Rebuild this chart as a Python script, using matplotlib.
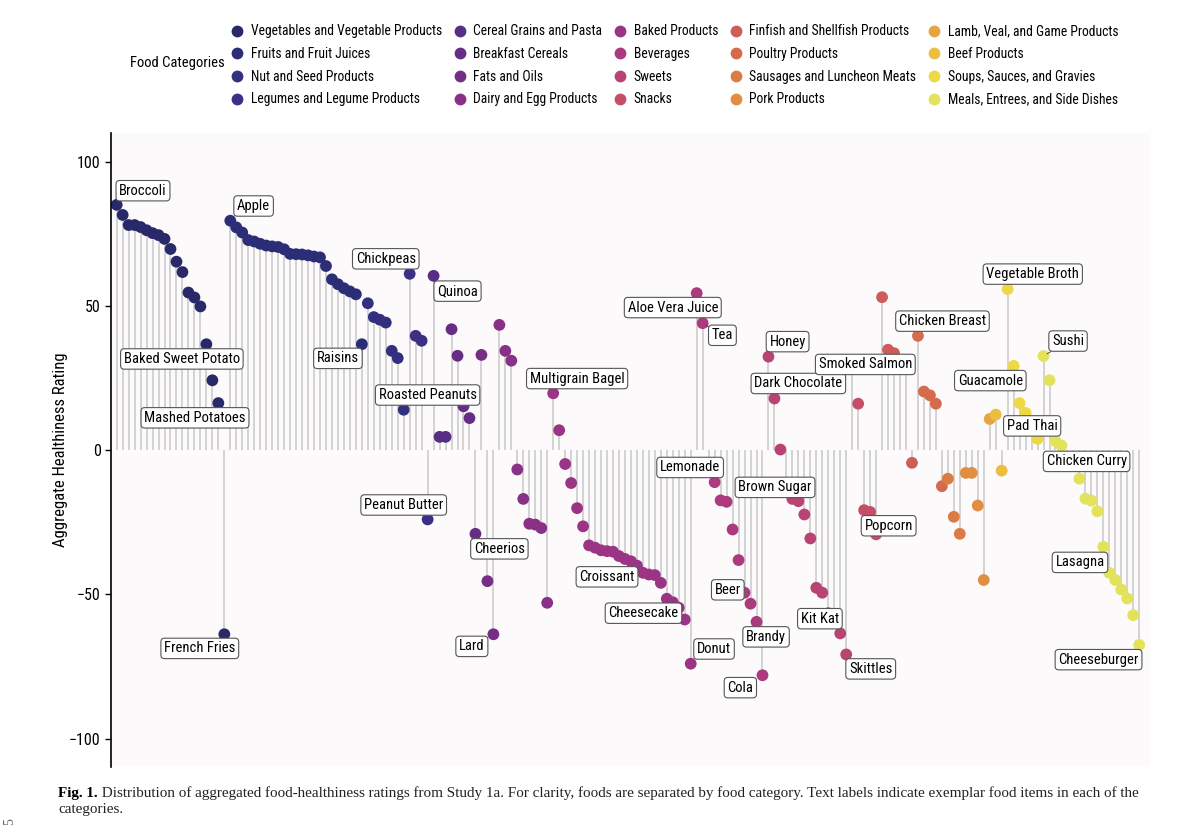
import matplotlib
matplotlib.use("Agg")
import matplotlib.pyplot as plt
from matplotlib import font_manager
from matplotlib.lines import Line2D
import numpy as np

# ------------------ DATOS ------------------
categories = [
    "Vegetables and Vegetable Products", "Fruits and Fruit Juices",
    "Nut and Seed Products", "Legumes and Legume Products",
    "Cereal Grains and Pasta", "Breakfast Cereals", "Fats and Oils",
    "Dairy and Egg Products", "Baked Products", "Beverages", "Sweets",
    "Snacks", "Finfish and Shellfish Products", "Poultry Products",
    "Sausages and Luncheon Meats", "Pork Products",
    "Lamb, Veal, and Game Products", "Beef Products",
    "Soups, Sauces, and Gravies", "Meals, Entrees, and Side Dishes",
]

vegetables = [85, 81.5, 78, 78, 77.3, 76.2, 75.2, 74.5, 73.2, 69.7, 65.3, 61.7,
              54.6, 52.9, 49.8, 36.7, 24.2, 16.3, -63.8]
fruits = [79.5, 77.2, 75.4, 72.8, 72.3, 71.5, 70.9, 70.6, 70.4, 69.6, 68.0, 67.9,
          67.8, 67.5, 67.1, 66.8, 63.8, 59.2, 57.5, 56.1, 55.0, 54.0, 36.7]
nuts = [50.9, 46.1, 45.2, 44.2, 34.4, 31.9, 14.0]
legumes = [61.1, 39.6, 37.9, -24.0]
cereal_grains = [60.4, 4.6, 4.6]
breakfast = [41.9, 32.7, 15.2, 11.1, -29.0]
fats = [33.0, -45.4, -63.8]
dairy = [43.4, 34.4, 31.0, -6.7, -16.9, -25.5, -25.8, -27.0, -52.9]
baked = [19.7, 6.9, -4.8, -11.4, -20.1, -26.4, -33.0, -33.8, -34.7, -35.0, -35.2,
         -36.7, -37.7, -38.5, -40.0, -42.5, -43.1, -43.3, -46.0, -51.5, -52.7,
         -54.6, -58.7, -74.0]
beverages = [54.4, 44.0, -6.0, -11.1, -17.4, -17.9, -27.5, -38.1, -49.4, -53.2,
             -59.5, -78.0]
sweets = [32.4, 17.9, 0.2, -12.0, -16.9, -17.7, -22.3, -30.6, -47.7, -49.4,
          -56.5, -59.5, -63.5, -70.8]
snacks = [30.0, 16.1, -20.8, -21.4, -29.2]
finfish = [53.0, 34.8, 33.6, 30.5, 28.5, -4.4]
poultry = [39.6, 20.3, 19.0, 16.1, -12.5]
sausages = [-9.9, -23.1, -29.0]
pork = [-7.9, -7.9, -19.2, -45.0]
lamb = [10.8]
beef = [12.3, -7.1]
soups = [55.8, 29.2, 16.3, 12.9, 8.0, 3.9]
meals = [32.6, 24.2, 3.1, 1.6, -3.5, -5.5, -9.9, -16.8, -17.5, -21.2, -33.5,
         -42.5, -45.0, -48.3, -51.4, -57.2, -67.5]

series = [vegetables, fruits, nuts, legumes, cereal_grains, breakfast, fats,
          dairy, baked, beverages, sweets, snacks, finfish, poultry, sausages,
          pork, lamb, beef, soups, meals]

# alimentos etiquetados -> indice del punto
label_names = ["Broccoli", "Baked Sweet Potato", "Mashed Potatoes", "French Fries",
               "Apple", "Raisins", "Roasted Peanuts", "Chickpeas", "Peanut Butter",
               "Quinoa", "Cheerios", "Lard", "Multigrain Bagel", "Croissant",
               "Cheesecake", "Donut", "Aloe Vera Juice", "Tea", "Lemonade", "Beer",
               "Brandy", "Cola", "Honey", "Dark Chocolate", "Brown Sugar", "Kit Kat",
               "Skittles", "Popcorn", "Smoked Salmon", "Chicken Breast",
               "Vegetable Broth", "Guacamole", "Sushi", "Pad Thai", "Chicken Curry",
               "Lasagna", "Cheeseburger"]
label_idx = [0, 15, 17, 18, 19, 41, 48, 49, 52, 53, 60, 63, 73, 84, 92, 96,
             97, 98, 99, 105, 107, 108, 109, 110, 112, 120, 122, 127, 131, 134,
             149, 150, 155, 157, 160, 165, 171]

# posicion de las cajas de texto (x en indice, y en escala)
label_pos = [(4.4, 89.9), (10.9, 31.6), (13.1, 11.2), (13.9, -68.7),
             (22.9, 84.6), (37.0, 31.8), (52.0, 19.1), (45.0, 66.3), (48.0, -19.0),
             (57.0, 55.1), (64.0, -34.2), (59.4, -68.0), (77.0, 24.8), (82.0, -43.9),
             (88.1, -56.5), (99.9, -68.9), (93.0, 49.4), (101.3, 39.8), (95.9, -6.0),
             (102.2, -48.4), (108.6, -64.7), (104.3, -82.3), (112.2, 37.6),
             (114.0, 23.1), (110.1, -12.9), (117.6, -58.4), (126.1, -75.8),
             (129.1, -26.2), (125.2, 29.7), (138.1, 44.7), (153.2, 61.0),
             (146.1, 24.1), (159.1, 37.8), (153.1, 8.4), (162.2, -3.9),
             (161.1, -38.9), (164.2, -72.6)]
con_linea = ["Tea", "Sushi"]

colores = ["#29296a", "#2c2d77", "#32307f", "#3d2f86", "#582e84", "#672c85",
           "#772d86", "#893087", "#9b3485", "#ab3a7e", "#b84473", "#c45067",
           "#cc5d5a", "#d56b4d", "#dc7c45", "#e28e42", "#e6a443", "#ebbe40",
           "#ecd944", "#e2e35a"]

# ------------------ FUENTES ------------------
def elegir_fuente(candidatas):
    for f in candidatas:
        try:
            font_manager.findfont(f, fallback_to_default=False)
            return f
        except Exception:
            continue
    return "DejaVu Sans"

sans = elegir_fuente(["Liberation Sans Narrow", "Roboto Condensed", "Liberation Sans"])
plt.rcParams["font.family"] = [sans, "DejaVu Sans"]

# ------------------ GRAFICO ------------------
valores = np.concatenate([np.array(s, dtype=float) for s in series])
grupo = np.concatenate([[i] * len(s) for i, s in enumerate(series)])
xs = np.arange(len(valores))

fig = plt.figure(figsize=(12, 8.39), dpi=100)
ax = fig.add_axes([0.0925, 0.0858, 0.8658, 0.7557])
ax.set_facecolor("#fdfafc")

ax.vlines(xs, 0, valores, color="#d3d3d3", lw=1.4, zorder=1)
ax.scatter(xs, valores, s=72, c=[colores[g] for g in grupo], zorder=2,
           linewidths=0)

for nombre, i, (lx, ly) in zip(label_names, label_idx, label_pos):
    flecha = None
    if nombre in con_linea:
        flecha = dict(arrowstyle="-", color="#333333", lw=0.6, shrinkA=0, shrinkB=3)
    ax.annotate(nombre, xy=(xs[i], valores[i]), xytext=(lx, ly), textcoords="data",
                ha="center", va="center", fontsize=10.5, zorder=5,
                arrowprops=flecha,
                bbox=dict(boxstyle="round,pad=0.22,rounding_size=0.25",
                          fc="white", ec="#555555", lw=0.8))

ax.set_xlim(-0.95, 172.8)
ax.set_ylim(-109.8, 109.9)
ax.set_yticks([-100, -50, 0, 50, 100])
ax.tick_params(axis="y", labelsize=11.5, length=4, width=1, color="black")
ax.set_xticks([])
for lado in ["top", "right", "bottom"]:
    ax.spines[lado].set_visible(False)
ax.spines["left"].set_linewidth(1.2)
ax.set_ylabel("Aggregate Healthiness Rating", fontsize=12)
ax.yaxis.set_label_coords(-0.041, 0.5)

# leyenda
handles = [Line2D([0], [0], marker="o", ls="", markersize=8.5,
                  markerfacecolor=c, markeredgewidth=0) for c in colores]
fig.legend(handles, categories, ncol=5, loc="upper left",
           bbox_to_anchor=(0.193, 0.971), frameon=False, fontsize=9.8,
           handlelength=0.85, handletextpad=0.55, columnspacing=0.9,
           labelspacing=0.64, borderpad=0, borderaxespad=0)
fig.text(130 / 1200, 1 - 63 / 839, "Food Categories", fontsize=10.5,
         ha="left", va="center")

# pie de figura
t1 = fig.text(58 / 1200, 1 - 793 / 839, "Fig. 1.", fontsize=10.9, fontweight="bold",
              family="Liberation Serif", va="center", ha="left")
ax.annotate(" Distribution of aggregated food-healthiness ratings from Study 1a. "
            "For clarity, foods are separated by food category. Text labels indicate "
            "exemplar food items in each of the",
            xy=(1, 0.5), xycoords=t1, va="center", ha="left", fontsize=10.9,
            family="Liberation Serif", color="#222222", annotation_clip=False)
fig.text(58 / 1200, 1 - 809 / 839, "categories.", fontsize=10.9,
         family="Liberation Serif", va="center", ha="left", color="#222222")
fig.text(10 / 1200, 1 - 822 / 839, "5", fontsize=10, rotation=90, color="#666666",
         family="Liberation Serif", va="center", ha="center")

fig.savefig("out.png", dpi=100, facecolor="white")
